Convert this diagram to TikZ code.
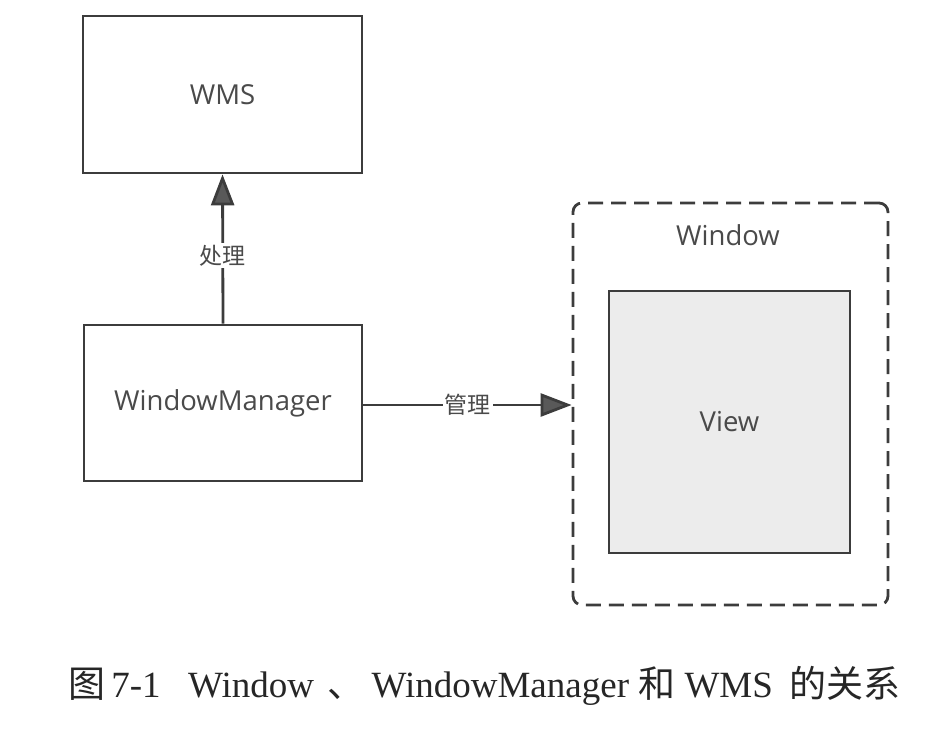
\documentclass[tikz,border=0pt]{standalone}
\usepackage{fontspec}
\setmainfont{Liberation Serif}
\newfontfamily\boxfont{Open Sans}
\newfontfamily\cjk{Noto Sans CJK SC}
\usetikzlibrary{arrows.meta}

\definecolor{linegray}{HTML}{3C3C3C}
\definecolor{textgray}{HTML}{4A4A4A}
\definecolor{viewfill}{HTML}{ECECEC}

\tikzset{
  labelfont/.style={font=\boxfont\fontsize{27.5}{30}\selectfont, text=textgray},
  box/.style={draw=linegray, line width=2.8pt, rectangle, inner sep=0pt, labelfont},
  conn/.style={draw=linegray, line width=2.8pt,
    -{Triangle[length=31pt, width=23pt, fill=linegray!85]}},
  connlabel/.style={fill=white, inner sep=2pt, text=textgray,
    font=\cjk\fontsize{23}{26}\selectfont},
}

\begin{document}
\begin{tikzpicture}[x=1pt, y=-1pt]
  \useasboundingbox (0,0) rectangle (950,734);

  % boxes
  \node[box, minimum width=279pt, minimum height=157pt] (wms) at (222.5,94.5) {WMS};
  \node[box, minimum width=278pt, minimum height=156pt] (wm) at (223,403) {WindowManager};

  % the window frame with its view
  \node[draw=linegray, line width=2.8pt, dash pattern=on 15pt off 8pt,
        rounded corners=9pt, minimum width=315pt, minimum height=402pt,
        inner sep=0pt] (window) at (730.5,404) {};
  \node[labelfont, inner sep=0pt] (wlabel) at (728,235) {Window};
  \node[box, fill=viewfill, minimum width=241pt, minimum height=262pt] (view) at (729.5,422) {View};

  % connectors
  \draw[conn] (wm.north) -- (wms.south)
    node[connlabel, pos=0.455] (l1) {处理};
  \draw[conn] (wm.east |- 0,405) coordinate (s2) -- (window.west |- s2)
    node[connlabel, midway] (l2) {管理};

  % caption
  \node[anchor=base west, inner sep=0pt, font=\fontsize{37}{40}\selectfont, text=black!85] (cap) at (68,697)
    {{\cjk 图}\,7-1\hspace{27.5pt}Window\hspace{13.5pt}{\cjk 、}\hspace{7pt}WindowManager {\cjk 和} WMS\hspace{7pt} {\cjk 的关系}};
\end{tikzpicture}
\end{document}
